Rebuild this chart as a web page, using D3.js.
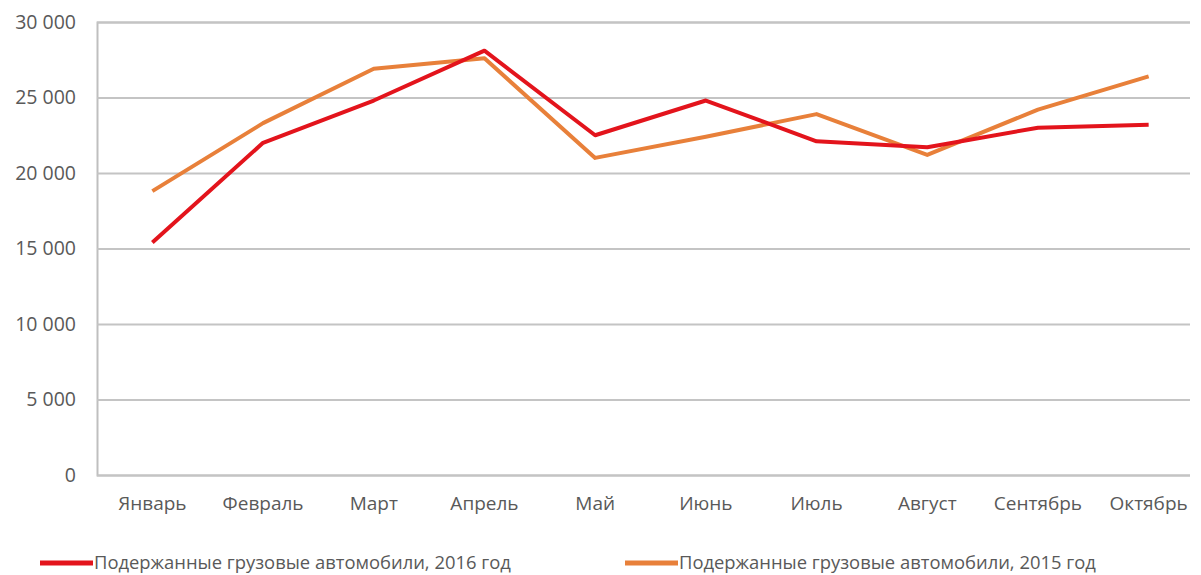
<!DOCTYPE html>
<html>
<head>
<meta charset="utf-8">
<script src="https://cdn.jsdelivr.net/npm/d3@7"></script>
<style>
  body { margin: 0; background: #fff; }
  text { font-family: "Open Sans", sans-serif; fill: #595959; }
</style>
</head>
<body>
<svg id="chart" width="1201" height="575"></svg>
<script>
var months = ["Январь","Февраль","Март","Апрель","Май","Июнь","Июль","Август","Сентябрь","Октябрь"];
var values2016 = [15400, 22000, 24800, 28100, 22500, 24800, 22100, 21700, 23000, 23200];
var values2015 = [18800, 23300, 26900, 27600, 21000, 22400, 23900, 21200, 24200, 26400];
var yTicks = [0, 5000, 10000, 15000, 20000, 25000, 30000];
var seriesNames = ["Подержанные грузовые автомобили, 2016 год", "Подержанные грузовые автомобили, 2015 год"];
var seriesColors = ["#e3141c", "#e8803a"];

var svg = d3.select("#chart"),
    margin = {left: 97, right: -3, top: 22, bottom: 100},
    W = 1201, H = 575;

var x = d3.scaleBand().domain(months).range([margin.left, W - margin.right]);
var y = d3.scaleLinear().domain([0, 30000]).range([H - margin.bottom, margin.top]);

var fmt = function(v){ return d3.format(",")(v).replace(/,/g, " "); };

// gridlines + y labels
svg.append("g")
  .attr("transform", "translate(" + margin.left + ",0)")
  .call(d3.axisLeft(y).tickValues(yTicks).tickSize(-(1190 - margin.left)).tickFormat(fmt).tickPadding(21))
  .call(function(g){
    g.select(".domain").attr("stroke", "#bfbfbf").attr("stroke-width", 2);
    g.selectAll(".tick line").attr("stroke", "#c4c4c4").attr("stroke-width", 2);
    g.selectAll(".tick text").style("font-size", "19.5px").attr("fill", "#595959");
  });

// x labels
svg.append("g")
  .attr("transform", "translate(0," + (H - margin.bottom) + ")")
  .call(d3.axisBottom(x).tickSize(0).tickPadding(22))
  .call(function(g){
    g.select(".domain").remove();
    g.selectAll(".tick text").style("font-size", "19px").attr("fill", "#595959");
  });

var line = d3.line()
  .x(function(d, i){ return x(months[i]) + x.bandwidth() / 2; })
  .y(function(d){ return y(d); });

[values2015, values2016].forEach(function(vals, k){
  var idx = k == 0 ? 1 : 0;
  svg.append("path")
    .datum(vals)
    .attr("fill", "none")
    .attr("stroke", seriesColors[idx])
    .attr("stroke-width", 4)
    .attr("stroke-linejoin", "round")
    .attr("d", line);
});

// legend
var legendX = [40, 625];
seriesNames.forEach(function(name, i){
  var g = svg.append("g").attr("transform", "translate(" + legendX[i] + ",563)");
  g.append("line").attr("x1", 0).attr("x2", 53).attr("y1", 0).attr("y2", 0)
    .attr("stroke", seriesColors[i]).attr("stroke-width", 5);
  g.append("text").attr("x", 54).attr("y", 0).attr("dy", "0.35em")
    .style("font-size", "18.4px").text(name);
});
</script>
</body>
</html>
